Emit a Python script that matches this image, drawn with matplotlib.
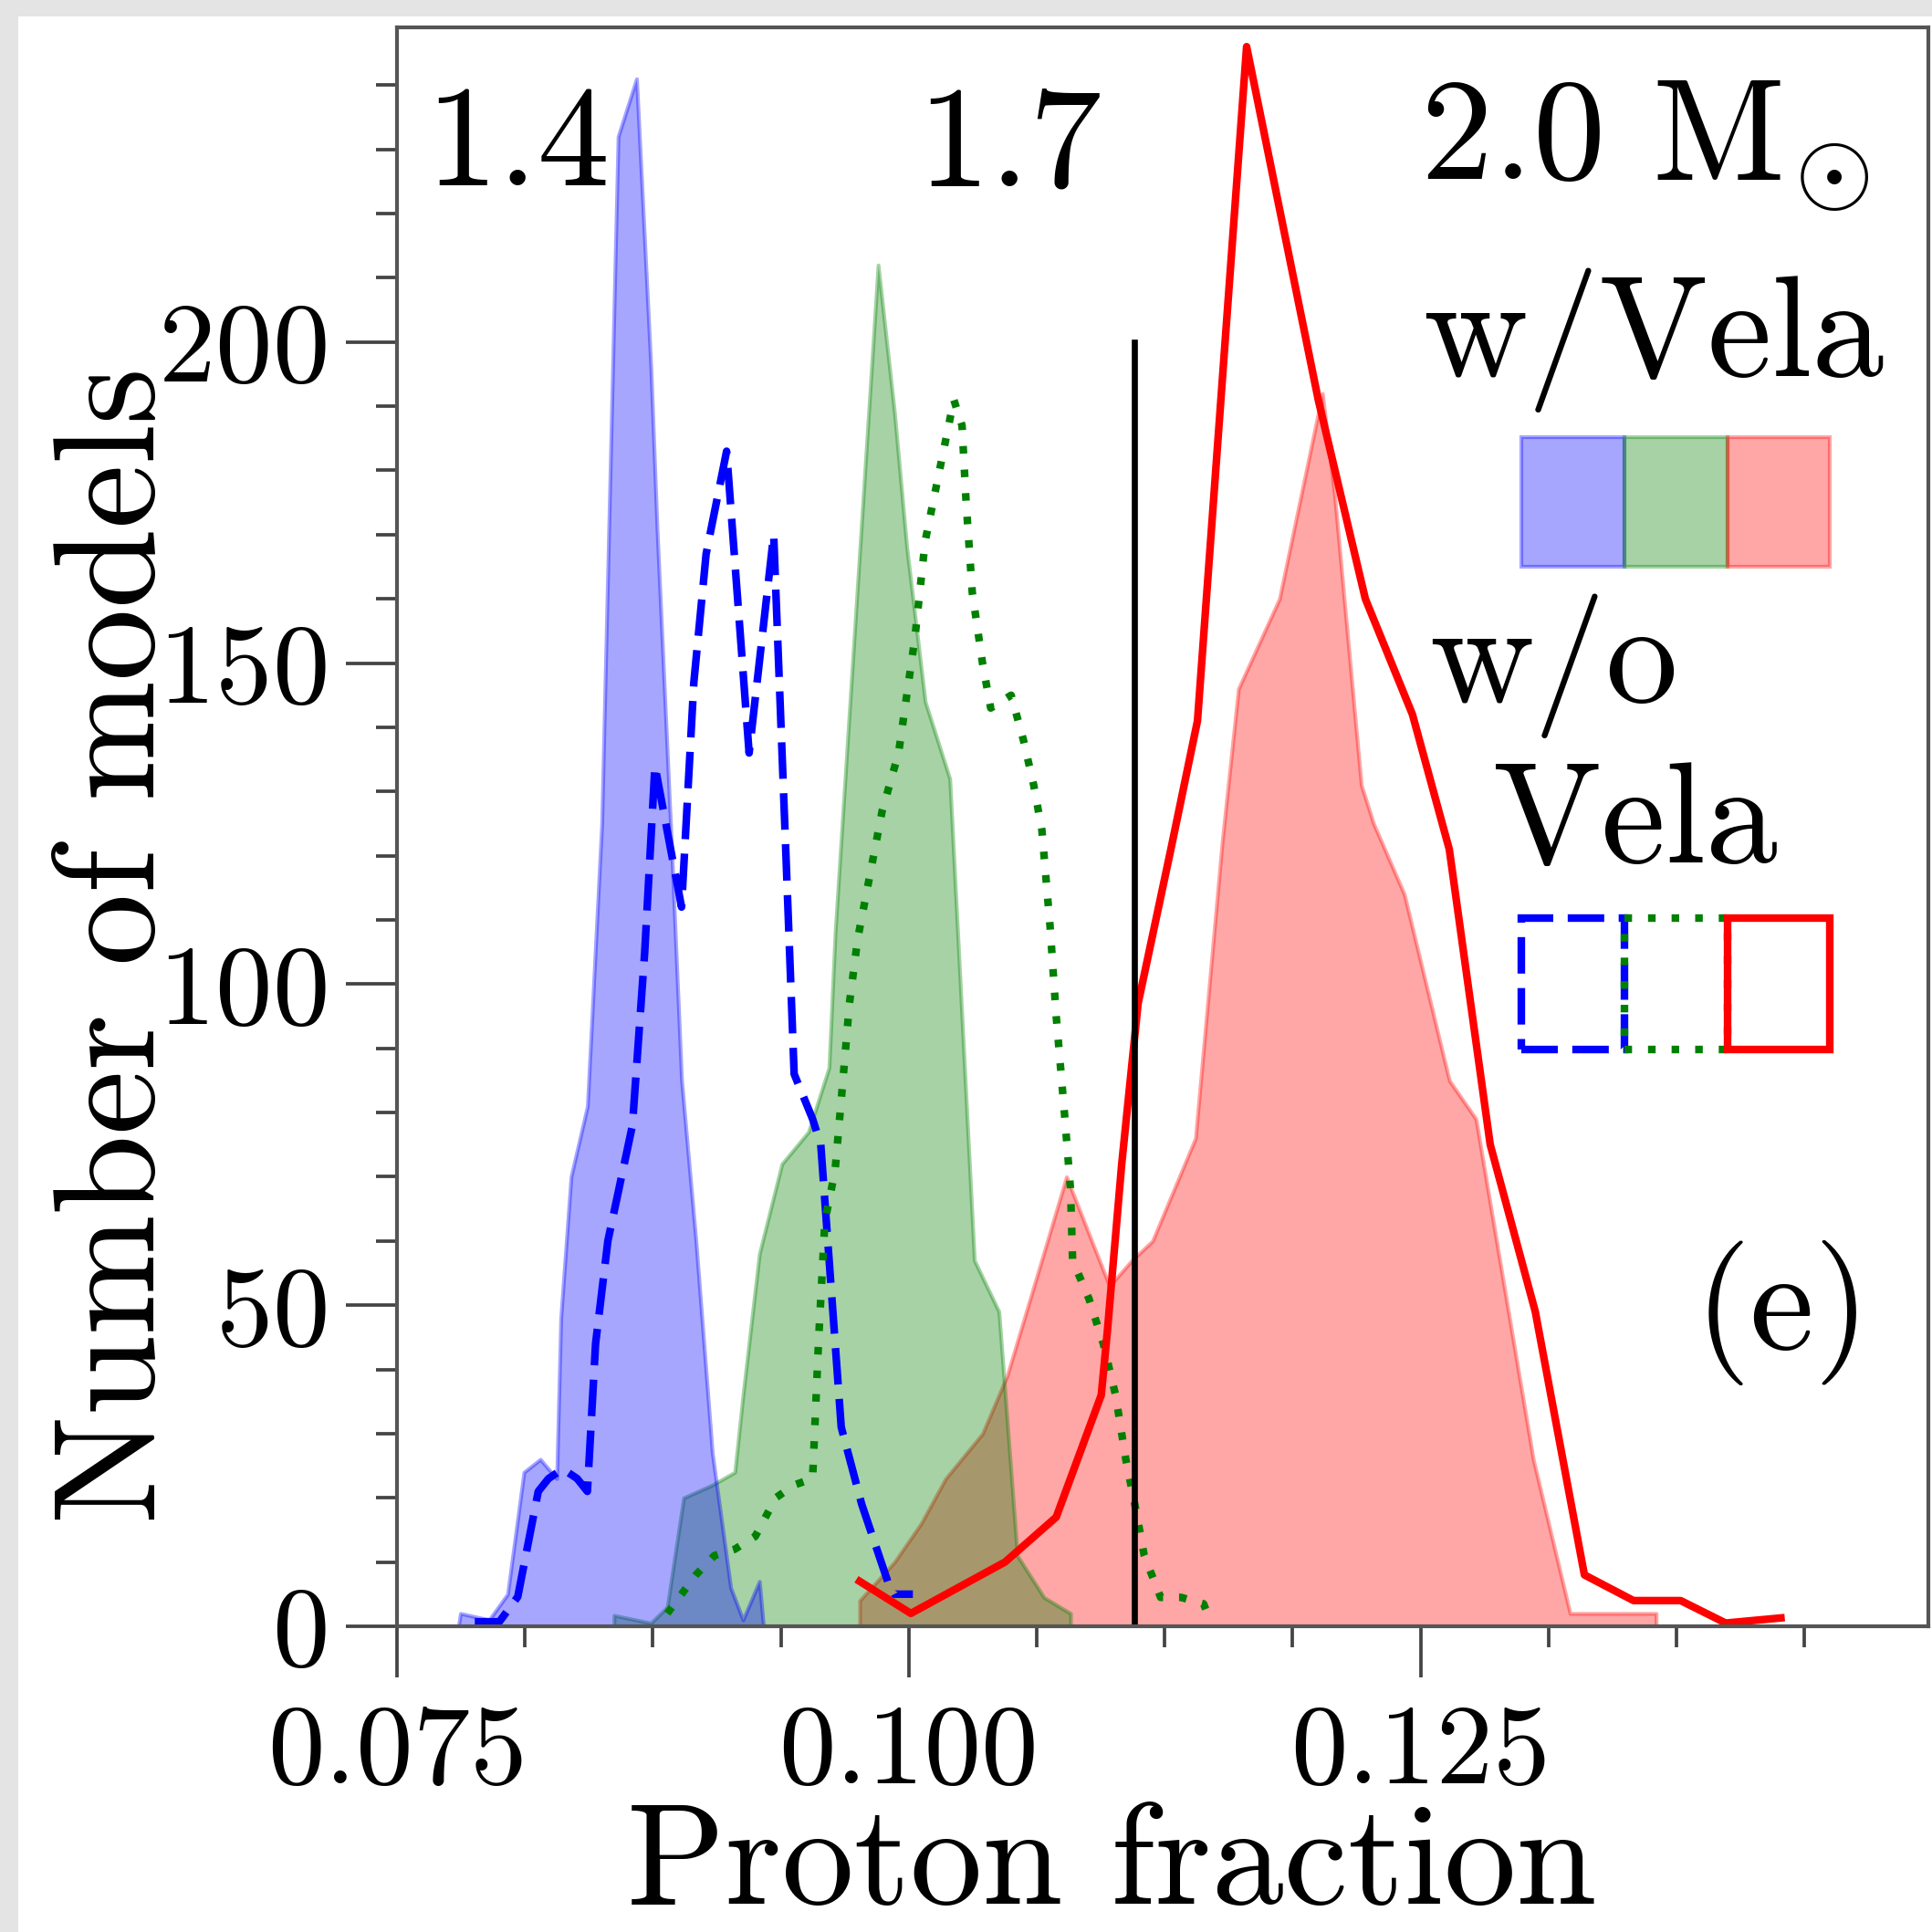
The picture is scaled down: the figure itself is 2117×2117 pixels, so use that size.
import numpy as np
import matplotlib
matplotlib.use("Agg")
import matplotlib.pyplot as plt
from matplotlib.ticker import MultipleLocator, FormatStrFormatter
from matplotlib.patches import Rectangle

plt.rcParams['font.family'] = 'serif'
plt.rcParams['font.serif'] = ['cmr10']
plt.rcParams['mathtext.fontset'] = 'cm'
plt.rcParams['axes.unicode_minus'] = False
plt.rcParams['axes.formatter.use_mathtext'] = True

# --- data (proton fraction, number of models) ---
# with Vela (filled histograms)
x_14_vela = [0.0780, 0.0781, 0.0795, 0.0804, 0.0812, 0.0820, 0.0828, 0.0830, 0.0835, 0.0843,
             0.0850, 0.0858, 0.0867, 0.0874, 0.0877, 0.0884, 0.0889, 0.0896, 0.0904, 0.0913,
             0.0919, 0.0927, 0.0929]
y_14_vela = [0, 2, 1, 5, 24, 26, 23, 48, 70, 81, 125, 232, 241, 196, 171, 122, 85, 60, 27, 6,
             1, 7, 0]

x_17_vela = [0.0856, 0.0856, 0.0874, 0.0882, 0.0890, 0.0904, 0.0915, 0.0919, 0.0927, 0.0938,
             0.0951, 0.0961, 0.0964, 0.0985, 0.0993, 0.0999, 0.1008, 0.1020, 0.1032, 0.1044,
             0.1053, 0.1066, 0.1079, 0.1079]
y_17_vela = [0, 1.7, 0.5, 3, 20, 22, 24, 36, 58, 72, 77, 87, 108, 212, 189, 168, 144, 132, 57, 49,
             11, 4.5, 2, 0]

x_20_vela = [0.0976, 0.0976, 0.0993, 0.1006, 0.1018, 0.1036, 0.1048, 0.1063, 0.1077, 0.1098,
             0.1109, 0.1119, 0.1140, 0.1153, 0.1161, 0.1181, 0.1202, 0.1208, 0.1221, 0.1227,
             0.1242, 0.1264, 0.1277, 0.1305, 0.1323, 0.1365, 0.1365]
y_20_vela = [0, 4, 10, 16, 23, 30, 39, 55, 70, 53, 57, 60, 76, 122, 146, 160, 192, 176, 131, 125,
             114, 85, 79, 26, 2, 2, 0]

# without Vela (line histograms)
x_14_novela = [0.0788, 0.0800, 0.0809, 0.0819, 0.0824, 0.0831, 0.0838, 0.0843, 0.0847, 0.0853,
               0.0865, 0.0871, 0.0876, 0.0889, 0.0895, 0.0901, 0.0911, 0.0922, 0.0934, 0.0940,
               0.0944, 0.0953, 0.0957, 0.0967, 0.0977, 0.0990, 0.0993, 0.1002]
y_14_novela = [0.7, 0.7, 4.6, 21, 23, 24.5, 23, 21, 44, 60, 78, 105, 134, 112, 147, 167, 183, 136,
               170, 120, 86, 79, 75, 31, 19, 6.7, 5, 5]

x_17_novela = [0.0882, 0.0889, 0.0896, 0.0905, 0.0915, 0.0925, 0.0935, 0.0944, 0.0953, 0.0956,
               0.0959, 0.0964, 0.0967, 0.0971, 0.0975, 0.0987, 0.0995, 0.1003, 0.1008, 0.1015,
               0.1022, 0.1026, 0.1028, 0.1031, 0.1036, 0.1040, 0.1050, 0.1056, 0.1061, 0.1065,
               0.1069, 0.1072, 0.1076, 0.1079, 0.1080, 0.1088, 0.1095, 0.1101, 0.1106, 0.1111,
               0.1115, 0.1123, 0.1133, 0.1144, 0.1147]
y_17_novela = [2, 5, 8, 11, 12, 14, 20, 22, 23, 45,
               63, 71, 82, 97, 107, 127, 136, 154, 169, 180,
               191, 187, 175, 161, 150, 143, 145, 138, 131, 124,
               109, 95, 80, 68, 57, 51, 44, 36, 26, 18,
               11, 4.5, 4.5, 3.5, 1]

x_20_novela = [0.0976, 0.1001, 0.1047, 0.1072, 0.1094, 0.1097, 0.1104, 0.1112, 0.1128, 0.1141,
               0.1165, 0.1200, 0.1223, 0.1246, 0.1264, 0.1284, 0.1306, 0.1330, 0.1354, 0.1377,
               0.1399, 0.1426]
y_20_novela = [7, 2, 10, 17, 36, 46, 72, 97, 121, 141,
               246, 191, 160, 142, 121, 75, 49, 8, 4, 4,
               0.5, 1.3]

x_vline = 0.1110
y_vline = [0, 200]

mass_labels = ['1.4', '1.7', r'2.0 M$_{\!\odot}$']

# --- figure ---
fig = plt.figure(figsize=(2117 / 300, 2117 / 300), dpi=300)
fig.patch.set_facecolor('#e4e4e4')
fig.patches.append(Rectangle((20 / 2117, 0), 1, 1 - 18 / 2117, transform=fig.transFigure,
                             facecolor='white', edgecolor='none', zorder=-10))
ax = fig.add_axes([435 / 2117, 335 / 2117, 1678 / 2117, 1752 / 2117])
ax.set_facecolor('white')

a = 0.35
ax.fill_between(x_20_vela, y_20_vela, color='red', alpha=a, lw=1.0)
ax.fill_between(x_17_vela, y_17_vela, color='green', alpha=a, lw=1.0)
ax.fill_between(x_14_vela, y_14_vela, color='blue', alpha=a, lw=1.0)

ax.plot(x_14_novela, y_14_novela, color='blue', lw=2.0, dashes=(4.8, 1.9))
ax.plot(x_17_novela, y_17_novela, color='green', lw=2.0, dashes=(1.0, 2.1))
ax.plot(x_20_novela, y_20_novela, color='red', lw=2.0)
ax.plot([x_vline, x_vline], y_vline, color='black', lw=1.6)

ax.set_xlim(0.075, 0.1498)
ax.set_ylim(0, 249)
ax.xaxis.set_major_locator(MultipleLocator(0.025))
ax.xaxis.set_minor_locator(MultipleLocator(0.00625))
ax.xaxis.set_major_formatter(FormatStrFormatter('%.3f'))
ax.yaxis.set_major_locator(MultipleLocator(50))
ax.yaxis.set_minor_locator(MultipleLocator(10))
ax.tick_params(which='both', direction='out', color='#444444', width=0.9)
ax.tick_params(which='major', length=13.5, labelsize=30)
ax.tick_params(axis='x', which='major', pad=7)
ax.tick_params(axis='y', which='major', pad=5)
ax.tick_params(which='minor', length=5.5)
for sp in ax.spines.values():
    sp.set_color('#555555')
    sp.set_linewidth(1.0)

ax.set_xlabel('Proton fraction', fontsize=38, va='baseline')
ax.xaxis.set_label_coords(0.4666, -0.1735)
ax.set_ylabel('Number of models', fontsize=38, va='baseline')
ax.yaxis.set_label_coords(-0.1585, 0.426)

big = 38
ax.text(0.0185, 0.901, mass_labels[0], transform=ax.transAxes, fontsize=big, va='baseline')
ax.text(0.340, 0.901, mass_labels[1], transform=ax.transAxes, fontsize=big, va='baseline')
ax.text(0.668, 0.905, mass_labels[2], transform=ax.transAxes, fontsize=big, va='baseline')
ax.text(0.670, 0.782, 'w/Vela', transform=ax.transAxes, fontsize=big, va='baseline')
ax.text(0.674, 0.578, 'w/o', transform=ax.transAxes, fontsize=big, va='baseline')
ax.text(0.716, 0.478, 'Vela', transform=ax.transAxes, fontsize=big, va='baseline')
ax.text(0.847, 0.1735, '(e)', transform=ax.transAxes, fontsize=big, va='baseline')

# legend swatches
w = 0.0673
x0 = 0.734
for i, c in enumerate(['blue', 'green', 'red']):
    ax.add_patch(Rectangle((x0 + i * w, 0.6627), w, 0.081, transform=ax.transAxes,
                           facecolor=c, edgecolor=c, alpha=a, lw=1.0))
styles = [dict(edgecolor='blue', dashes=(4.8, 1.9)), dict(edgecolor='green', dashes=(1.0, 2.1)),
          dict(edgecolor='red')]
for i, st in enumerate(styles):
    dash = st.pop('dashes', None)
    r = Rectangle((x0 + i * w, 0.3607), w, 0.0823, transform=ax.transAxes,
                  facecolor='none', lw=2.0, **st)
    if dash is not None:
        r.set_linestyle((0, dash))
    ax.add_patch(r)

fig.savefig('out.png', dpi=300)
